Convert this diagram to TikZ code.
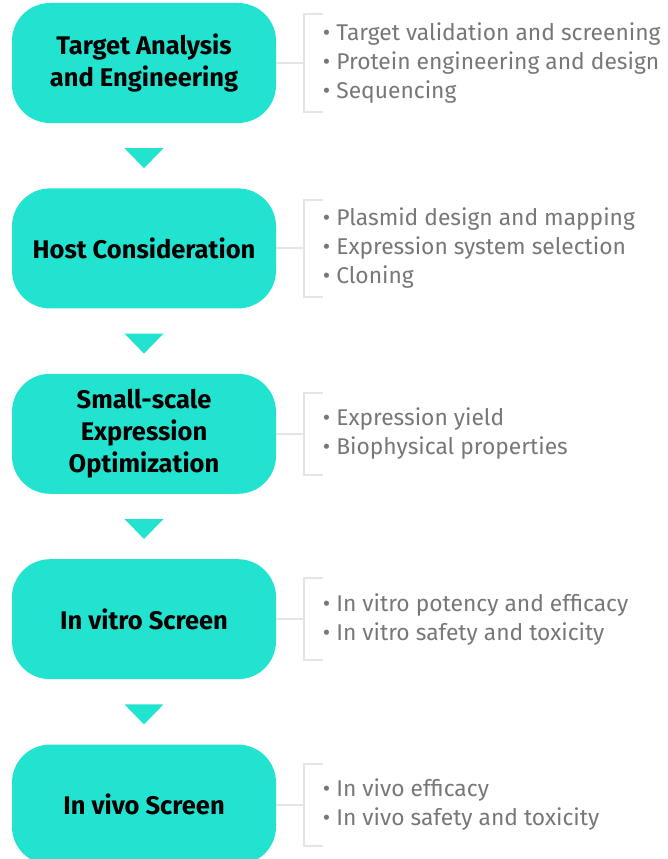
\documentclass[tikz,border=0pt]{standalone}
\usepackage{fontspec}
\setmainfont{Fira Sans}
\usetikzlibrary{positioning}
\definecolor{stageteal}{HTML}{22E3D0}
\definecolor{itemgray}{HTML}{777777}
\definecolor{bracketgray}{HTML}{E4E4E4}
\tikzset{
  stagebox/.style={fill=stageteal, rounded corners=38pt, minimum width=264pt, minimum height=120pt,
    align=center, text=black, font=\bfseries\fontsize{25.5}{32}\selectfont},
  itemlist/.style={align=left, text=itemgray, inner sep=0pt, font=\fontsize{22.8}{29}\selectfont},
  bracket/.style={draw=bracketgray, line width=2pt},
  stagetri/.style={fill=stageteal}
}
\begin{document}
\begin{tikzpicture}[x=1pt,y=-1pt]
\useasboundingbox (0,0) rectangle (668,859);
%stages
\node[stagebox] (s1) at (144,63) {Target Analysis\\and Engineering};
\node[stagebox,below=65pt of s1] (s2) {Host Consideration};
\node[stagebox,below=65pt of s2] (s3) {Small-scale\\Expression\\Optimization};
\node[stagebox,below=65pt of s3] (s4) {In vitro Screen};
\node[stagebox,below=65pt of s4] (s5) {In vivo Screen};
%items
\node[itemlist,right=46.5pt of s1] (l1) {• Target validation and screening\\• Protein engineering and design\\• Sequencing};
\node[itemlist,right=46.5pt of s2] (l2) {• Plasmid design and mapping\\• Expression system selection\\• Cloning};
\node[itemlist,right=46.5pt of s3] (l3) {• Expression yield\\• Biophysical properties};
\node[itemlist,right=46.5pt of s4] (l4) {• In vitro potency and efficacy\\• In vitro safety and toxicity};
\node[itemlist,right=46.5pt of s5] (l5) {• In vivo efficacy\\• In vivo safety and toxicity};
%brackets
\foreach \s/\h in {1/48.5,2/48.5,3/41,4/41,5/41}{
  \coordinate[right=28pt of s\s] (k\s);
  \draw[bracket] (s\s.east)--(k\s);
  \draw[bracket] ([xshift=19pt,yshift=\h pt]k\s)--([yshift=\h pt]k\s)--([yshift=-\h pt]k\s)--([xshift=19pt,yshift=-\h pt]k\s);
}
%triangles
\foreach \s in {1,...,4}{\fill[stagetri] ([xshift=-19.5pt,yshift=-25pt]s\s.south)--++(39,0)--++(-19.5,20)--cycle;}
\end{tikzpicture}
\end{document}
